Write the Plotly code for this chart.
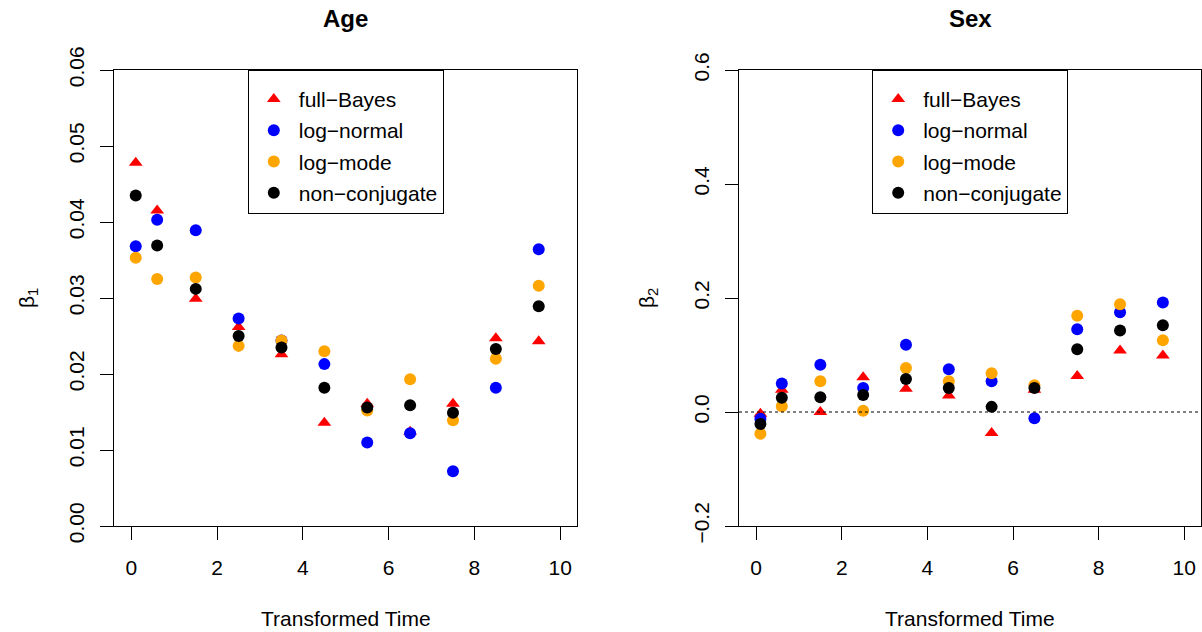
import plotly.graph_objects as go

# ---- data ----
time = [0.1, 0.6, 1.5, 2.5, 3.5, 4.5, 5.5, 6.5, 7.5, 8.5, 9.5]
methods = ["full−Bayes", "log−normal", "log−mode", "non−conjugate"]

age_full_bayes = [0.0478, 0.0415, 0.0299, 0.0262, 0.0226, 0.0136, 0.0161, 0.0124, 0.0161, 0.0247, 0.0243]
age_log_normal = [0.0368, 0.0403, 0.0389, 0.0273, 0.0244, 0.0213, 0.0110, 0.0122, 0.0072, 0.0182, 0.0364]
age_log_mode = [0.0353, 0.0325, 0.0327, 0.0237, 0.0244, 0.0230, 0.0152, 0.0193, 0.0139, 0.0220, 0.0316]
age_non_conj = [0.0435, 0.0369, 0.0312, 0.0250, 0.0235, 0.0182, 0.0156, 0.0159, 0.0149, 0.0233, 0.0289]

sex_full_bayes = [-0.003, 0.039, 0.000, 0.061, 0.041, 0.029, -0.037, 0.039, 0.063, 0.108, 0.099]
sex_log_normal = [-0.012, 0.050, 0.083, 0.042, 0.118, 0.075, 0.054, -0.011, 0.145, 0.175, 0.192]
sex_log_mode = [-0.038, 0.010, 0.054, 0.002, 0.077, 0.054, 0.068, 0.047, 0.169, 0.189, 0.126]
sex_non_conj = [-0.021, 0.025, 0.026, 0.030, 0.058, 0.042, 0.009, 0.042, 0.110, 0.143, 0.152]

age_ticks = [0.00, 0.01, 0.02, 0.03, 0.04, 0.05, 0.06]
sex_ticks = [-0.2, 0.0, 0.2, 0.4, 0.6]
x_ticks = [0, 2, 4, 6, 8, 10]

colors = ["#FF0000", "#0000FF", "#FFA500", "#000000"]
symbols = ["triangle-up", "circle", "circle", "circle"]
sizes = [12, 12, 12, 12]

FONT = "Liberation Sans, Arial, Helvetica, sans-serif"
W, H = 1202, 632

# panel geometry (pixels)
x1_dom = [114.3 / W, 577.3 / W]
x2_dom = [739.0 / W, 1201.4 / W]
y_dom = [(H - 526) / H, (H - 70) / H]

fig = go.Figure()

panels = [
    ("x", "y", "legend", [age_full_bayes, age_log_normal, age_log_mode, age_non_conj]),
    ("x2", "y2", "legend2", [sex_full_bayes, sex_log_normal, sex_log_mode, sex_non_conj]),
]
for xa, ya, lg, series in panels:
    for i, (name, vals) in enumerate(zip(methods, series)):
        fig.add_trace(go.Scatter(
            x=time, y=vals, mode="markers", name=name,
            xaxis=xa, yaxis=ya, legend=lg, legendgroup=lg + str(i),
            marker=dict(color=colors[i], symbol=symbols[i], size=sizes[i], line=dict(width=0)),
        ))

axis_common = dict(
    showgrid=False, zeroline=False, showline=True, linecolor="black", linewidth=1,
    mirror=True, ticks="outside", ticklen=13, tickcolor="black", tickwidth=1,
    automargin=False,
    tickfont=dict(family=FONT, size=21, color="black"),
)

fig.update_layout(
    width=W, height=H,
    margin=dict(l=0, r=0, t=0, b=0, autoexpand=False),
    paper_bgcolor="white", plot_bgcolor="white",
    font=dict(family=FONT, size=21, color="black"),
    xaxis=dict(domain=x1_dom, range=[-0.4, 10.4], tickvals=x_ticks, anchor="y",
               ticklabelstandoff=10, **axis_common),
    yaxis=dict(domain=y_dom, range=[0, 0.06], tickvals=age_ticks, tickformat=".2f",
               tickangle=-90, anchor="x", ticklabelstandoff=8, **axis_common),
    xaxis2=dict(domain=x2_dom, range=[-0.4, 10.4], tickvals=x_ticks, anchor="y2",
                ticklabelstandoff=10, **axis_common),
    yaxis2=dict(domain=y_dom, range=[-0.2, 0.6], tickvals=sex_ticks, tickformat=".1f",
                tickangle=-90, anchor="x2", ticklabelstandoff=8, **axis_common),
    showlegend=True,
)

legend_common = dict(
    xanchor="center", yanchor="top", y=y_dom[1],
    bordercolor="black", borderwidth=1, bgcolor="white",
    font=dict(family=FONT, size=21, color="black"),
    traceorder="grouped", tracegroupgap=1, itemwidth=40,
    title=dict(text="&nbsp;", font=dict(family=FONT, size=6, color="white"), side="top"),
)
fig.update_layout(
    legend=dict(x=sum(x1_dom) / 2, **legend_common),
    legend2=dict(x=sum(x2_dom) / 2, **legend_common),
)

# dotted zero line on the Sex panel
fig.add_shape(type="line", xref="x2 domain", yref="y2", x0=0, x1=1, y0=0, y1=0,
              line=dict(color="black", width=1, dash="dot"))

# titles and axis labels
for cx, title, ylab, ylab_x in [
    (sum(x1_dom) / 2, "Age", "β<sub>1</sub>", 28 / W),
    (sum(x2_dom) / 2, "Sex", "β<sub>2</sub>", 648 / W),
]:
    fig.add_annotation(text="<b>%s</b>" % title, x=cx, y=(H - 18) / H, xref="paper", yref="paper",
                       showarrow=False, xanchor="center", yanchor="middle",
                       font=dict(family=FONT, size=24, color="black"))
    fig.add_annotation(text="Transformed Time", x=cx, y=(H - 618) / H, xref="paper", yref="paper",
                       showarrow=False, xanchor="center", yanchor="middle",
                       font=dict(family=FONT, size=21, color="black"))
    fig.add_annotation(text=ylab, x=ylab_x, y=(H - 298) / H, xref="paper", yref="paper",
                       showarrow=False, xanchor="center", yanchor="middle", textangle=-90,
                       font=dict(family=FONT, size=21, color="black"))

fig.write_html("out.html")
